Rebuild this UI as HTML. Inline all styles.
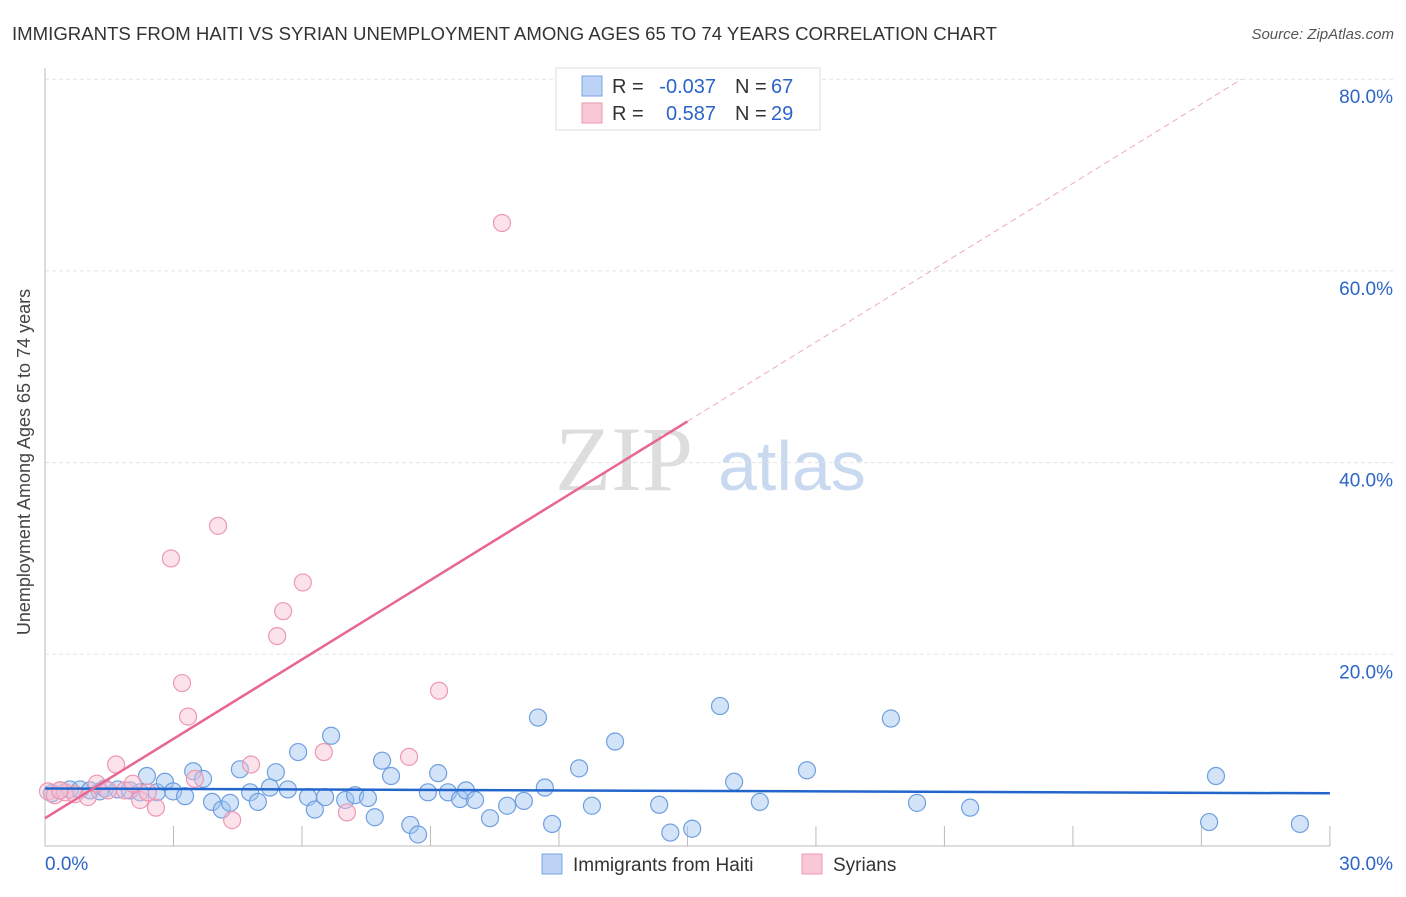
<!DOCTYPE html>
<html><head><meta charset="utf-8"><style>
body{margin:0;background:#fff;font-family:"Liberation Sans",sans-serif}
</style></head><body>
<svg id="c" width="1406" height="892" xmlns="http://www.w3.org/2000/svg" font-family="Liberation Sans, sans-serif">
<text x="12" y="40" font-size="18" fill="#333" textLength="985" lengthAdjust="spacingAndGlyphs">IMMIGRANTS FROM HAITI VS SYRIAN UNEMPLOYMENT AMONG AGES 65 TO 74 YEARS CORRELATION CHART</text>
<text x="1394" y="39" font-size="15" fill="#555" text-anchor="end" font-style="italic">Source: ZipAtlas.com</text>
<text x="24" y="456" font-size="18" fill="#444" text-anchor="middle" transform="rotate(-90 30 456)">Unemployment Among Ages 65 to 74 years</text>
<text x="555" y="490" font-size="92" fill="#ddd" font-family="Liberation Serif, serif">ZIP</text>
<text x="718" y="490" font-size="70" fill="#c9d9f0">atlas</text>
<g id="grid"></g><g id="pts"></g><g id="lines"></g>
<g>
<rect x="556" y="68" width="264" height="62" fill="#fff" stroke="#ddd"/>
<rect x="582" y="76" width="20" height="20" fill="#bcd3f5" stroke="#7aa6e6"/>
<rect x="582" y="103" width="20" height="20" fill="#f8c8d6" stroke="#ee9ab2"/>
<text x="612" y="93" font-size="20" fill="#333">R =</text>
<text x="716" y="93" font-size="20" fill="#2c64c8" text-anchor="end">-0.037</text>
<text x="735" y="93" font-size="20" fill="#333">N =</text>
<text x="771" y="93" font-size="20" fill="#2c64c8">67</text>
<text x="612" y="120" font-size="20" fill="#333">R =</text>
<text x="716" y="120" font-size="20" fill="#2c64c8" text-anchor="end">0.587</text>
<text x="735" y="120" font-size="20" fill="#333">N =</text>
<text x="771" y="120" font-size="20" fill="#2c64c8">29</text>
</g>
<g>
<rect x="542" y="854" width="20" height="20" fill="#bcd3f5" stroke="#7aa6e6"/>
<text x="573" y="871" font-size="19" fill="#333">Immigrants from Haiti</text>
<rect x="802" y="854" width="20" height="20" fill="#f8c8d6" stroke="#ee9ab2"/>
<text x="833" y="871" font-size="19" fill="#333">Syrians</text>
</g>
</svg>
<script>
const xTicks=[0,3,6,9,12,15,18,21,24,27,30];
const yTicks=[20,40,60,80];
const haitiX=[0.16,0.35,0.58,0.82,1.05,1.4,1.7,1.98,2.22,2.38,2.61,2.8,2.99,3.27,3.46,3.69,3.9,4.13,4.32,4.55,4.79,4.97,5.25,5.39,5.67,5.91,6.14,6.3,6.54,6.68,7.01,7.24,7.54,7.7,7.87,8.08,8.53,8.71,8.94,9.18,9.41,9.69,9.83,10.04,10.39,10.79,11.18,11.51,11.67,11.84,12.47,12.77,13.31,14.34,14.6,15.11,15.76,16.09,16.69,17.79,19.75,20.36,21.6,27.18,27.34,29.3,1.28];
const haitiY=[5.5,5.8,5.9,5.9,5.8,6.0,5.9,5.8,5.6,7.3,5.6,6.7,5.7,5.2,7.8,7.0,4.6,3.8,4.5,8.0,5.6,4.6,6.1,7.7,5.9,9.8,5.1,3.8,5.1,11.5,4.8,5.3,5.0,3.0,8.9,7.3,2.2,1.2,5.6,7.6,5.6,4.9,5.8,4.8,2.9,4.2,4.7,13.4,6.1,2.3,8.1,4.2,10.9,4.3,1.4,1.8,14.6,6.7,4.6,7.9,13.3,4.5,4.0,2.5,7.3,2.3,5.7];
const syrX=[0.07,0.23,0.47,0.7,1.0,1.21,1.47,1.66,1.87,2.05,2.22,2.4,2.59,2.94,3.2,3.34,3.5,4.04,4.37,4.81,5.42,5.56,6.02,6.51,7.05,8.5,9.2,10.67,0.35];
const syrY=[5.7,5.3,5.6,5.4,5.1,6.5,5.8,8.5,5.8,6.5,4.8,5.6,4.0,30.0,17.0,13.5,7.0,33.4,2.7,8.5,21.9,24.5,27.5,9.8,3.5,9.3,16.2,65.0,5.8];
const haitiLine=[6.0,5.5];
const syrLine=[2.9,2.76];
const X=v=>45+v*42.83, Y=v=>846-v*9.585;
const NS="http://www.w3.org/2000/svg";
function mk(t,a,p){const e=document.createElementNS(NS,t);for(const k in a)e.setAttribute(k,a[k]);p.appendChild(e);return e;}
const g=document.getElementById('grid');
yTicks.forEach(v=>{const l=mk('line',{x1:45,x2:1394,y1:Y(v),y2:Y(v),stroke:'#e4e4e4','stroke-dasharray':'4,3'},g);


const t=mk('text',{x:1393,y:Y(v)+24,'font-size':19,fill:'#2c64c8','text-anchor':'end'},g);t.textContent=v.toFixed(1)+'%';

});
mk('line',{x1:45,x2:45,y1:68,y2:846,stroke:'#bbb'},g);
mk('line',{x1:45,x2:1330,y1:846,y2:846,stroke:'#bbb'},g);
xTicks.forEach(v=>{const l=mk('line',{x1:X(v),x2:X(v),y1:826,y2:846,stroke:'#bbb'},g);

});
[[0,'start',45],[30,'end',1393]].forEach(([v,a,x])=>{const t=mk('text',{x:x,y:870,'font-size':19,fill:'#2c64c8','text-anchor':a},g);t.textContent=v.toFixed(1)+'%';

});
const p=document.getElementById('pts');
haitiX.forEach((x,i)=>{const c=mk('circle',{cx:X(x),cy:Y(haitiY[i]),r:8.5,fill:'rgba(160,195,240,0.45)',stroke:'#6f9fe0','stroke-width':1.2},p);

});
syrX.forEach((x,i)=>{const c=mk('circle',{cx:X(x),cy:Y(syrY[i]),r:8.5,fill:'rgba(248,190,210,0.45)',stroke:'#ee98b2','stroke-width':1.2},p);

});
const L=document.getElementById('lines');
const hl=mk('line',{x1:X(0),y1:Y(haitiLine[0]),x2:X(30),y2:Y(haitiLine[1]),stroke:'#2266cc','stroke-width':2.5},L);


const sy=x=>syrLine[0]+syrLine[1]*x;
const sl=mk('line',{x1:X(0),y1:Y(sy(0)),x2:X(15),y2:Y(sy(15)),stroke:'#e86690','stroke-width':2.5},L);


const xe=(80-syrLine[0])/syrLine[1];
const sd=mk('line',{x1:X(15),y1:Y(sy(15)),x2:X(xe),y2:Y(80),stroke:'#eeaabe','stroke-width':1,'stroke-dasharray':'6,4'},L);


</script>
</body></html>
